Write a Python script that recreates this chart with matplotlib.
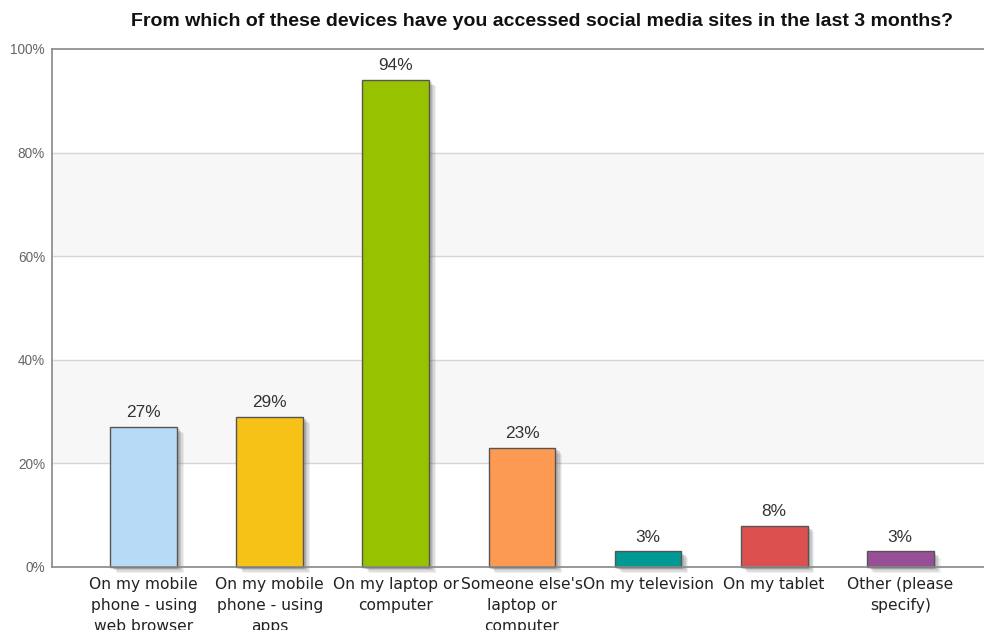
import matplotlib
matplotlib.use("Agg")
import matplotlib.pyplot as plt
import matplotlib.patheffects as pe

categories = [
    "On my mobile\nphone - using\nweb browser",
    "On my mobile\nphone - using\napps",
    "On my laptop or\ncomputer",
    "Someone else's\nlaptop or\ncomputer",
    "On my television",
    "On my tablet",
    "Other (please\nspecify)",
]
values = [27, 29, 94, 23, 3, 8, 3]
colors = ["#b7dbf7", "#f6c218", "#97c200", "#fd9a52", "#009994", "#dc5050", "#974f97"]
yticks = [0, 20, 40, 60, 80, 100]
title = "From which of these devices have you accessed social media sites in the last 3 months?"

plt.rcParams["font.family"] = ["Liberation Sans", "DejaVu Sans"]

fig = plt.figure(figsize=(9.84, 6.3), dpi=100)
ax = fig.add_axes([52 / 984, 63 / 630, 1 - 52 / 984 + 0.002, 518 / 630])

# alternating background bands
for i, lo in enumerate(yticks[:-1]):
    if i % 2 == 1:
        ax.axhspan(lo, lo + 20, color="#f7f7f7", zorder=0, lw=0)
for t in yticks[1:-1]:
    ax.axhline(t, color="#d6d6d6", lw=1, zorder=1)

x = list(range(len(categories)))
# soft drop shadow built from several faint offset layers
shadow = [
    pe.SimplePatchShadow(offset=(2, -1.5), shadow_rgbFace="#666666", alpha=0.22),
    pe.SimplePatchShadow(offset=(3, -2.5), shadow_rgbFace="#666666", alpha=0.18),
    pe.SimplePatchShadow(offset=(4, -3.5), shadow_rgbFace="#666666", alpha=0.14),
    pe.SimplePatchShadow(offset=(5, -4.5), shadow_rgbFace="#666666", alpha=0.09),
    pe.Normal(),
]
bars = ax.bar(x, values, width=0.53, color=colors, edgecolor="#555555", linewidth=1.0, zorder=3)
for b in bars:
    b.set_path_effects(shadow)
    b.set_clip_on(False)

for xi, v in zip(x, values):
    ax.annotate(f"{v}%", (xi, v), xytext=(0, 5), textcoords="offset points",
                ha="center", va="bottom", fontsize=12.4, color="#333333", zorder=4)

ax.set_xlim(-0.727, 6.68)
ax.set_ylim(0, 100)
ax.set_yticks(yticks)
ax.set_yticklabels([f"{t}%" for t in yticks], fontsize=9.8, color="#666666")
ax.set_xticks(x)
ax.set_xticklabels(categories, fontsize=11.2, color="#222222", linespacing=1.5,
                   va="top", family=["DejaVu Sans"])
ax.tick_params(axis="both", length=0)
ax.tick_params(axis="y", pad=5)
ax.tick_params(axis="x", pad=7)

for s in ["left", "bottom", "top"]:
    ax.spines[s].set_color("#888888")
    ax.spines[s].set_linewidth(1.2)
    ax.spines[s].set_zorder(5)
ax.spines["right"].set_visible(False)

fig.text(542 / 984, 1 - 22 / 630, title, ha="center", va="center",
         fontsize=14, fontweight="bold", color="#111111")

fig.savefig("out.png", dpi=100)
